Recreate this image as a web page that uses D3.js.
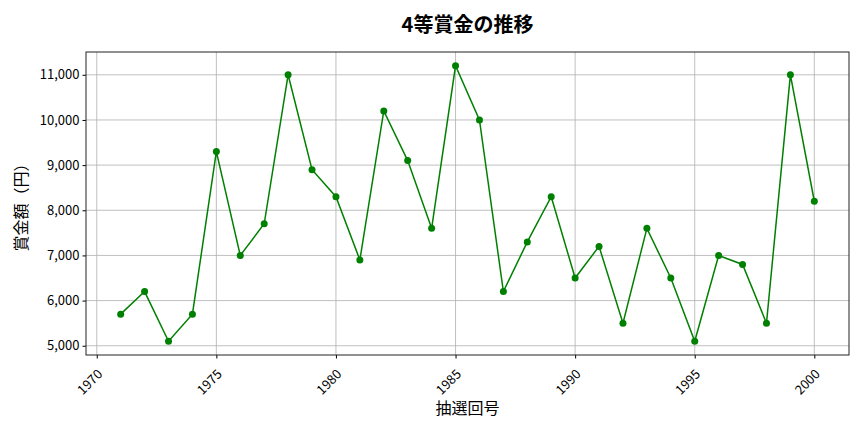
<!DOCTYPE html>
<html>
<head>
<meta charset="utf-8">
<script src="https://cdn.jsdelivr.net/npm/d3@7"></script>
<style>
  body { margin: 0; background: #fff; }
  text { font-family: "Noto Sans CJK JP", "Noto Sans", sans-serif; }
</style>
</head>
<body>
<svg id="chart" width="864" height="432"></svg>
<script>
  var years = [1971, 1972, 1973, 1974, 1975, 1976, 1977, 1978, 1979, 1980,
    1981, 1982, 1983, 1984, 1985, 1986, 1987, 1988, 1989, 1990,
    1991, 1992, 1993, 1994, 1995, 1996, 1997, 1998, 1999, 2000];
  var prizes = [5700, 6200, 5100, 5700, 9300, 7000, 7700, 11000, 8900, 8300,
    6900, 10200, 9100, 7600, 11200, 10000, 6200, 7300, 8300, 6500,
    7200, 5500, 7600, 6500, 5100, 7000, 6800, 5500, 11000, 8200];
  var xTicks = [1970, 1975, 1980, 1985, 1990, 1995, 2000];
  var yTicks = [5000, 6000, 7000, 8000, 9000, 10000, 11000];
  var titleText = '4等賞金の推移';
  var xLabel = '抽選回号';
  var yLabel = '賞金額（円）';

  (function () {
    var svg = d3.select('#chart'),
      plotLeft = 86,
      plotRight = 849,
      plotTop = 52,
      plotBottom = 355;

    var xMin = d3.min(years), xMax = d3.max(years),
      xPad = (xMax - xMin) * 0.05,
      yMin = d3.min(prizes), yMax = d3.max(prizes),
      yPad = (yMax - yMin) * 0.05;

    var x = d3.scaleLinear().domain([xMin - xPad, xMax + xPad]).range([plotLeft, plotRight]);
    var y = d3.scaleLinear().domain([yMin - yPad, yMax + yPad]).range([plotBottom, plotTop]);

    // grid
    svg.append('g').selectAll('line').data(xTicks).enter().append('line')
      .attr('x1', function (d) { return x(d); })
      .attr('x2', function (d) { return x(d); })
      .attr('y1', plotTop).attr('y2', plotBottom)
      .attr('stroke', '#b0b0b0').attr('stroke-width', 0.8);
    svg.append('g').selectAll('line').data(yTicks).enter().append('line')
      .attr('y1', function (d) { return y(d); })
      .attr('y2', function (d) { return y(d); })
      .attr('x1', plotLeft).attr('x2', plotRight)
      .attr('stroke', '#b0b0b0').attr('stroke-width', 0.8);

    // axes
    var xAxis = svg.append('g')
      .attr('transform', 'translate(0,' + plotBottom + ')')
      .call(d3.axisBottom(x).tickValues(xTicks).tickFormat(d3.format('d')).tickSize(3.5).tickSizeOuter(0));
    xAxis.select('.domain').remove();
    xAxis.selectAll('text')
      .attr('font-size', 13)
      .attr('fill', '#000')
      .attr('dy', null)
      .attr('y', 0)
      .attr('text-anchor', 'end')
      .attr('transform', 'translate(6,20) rotate(-45)');

    var yAxis = svg.append('g')
      .attr('transform', 'translate(' + plotLeft + ',0)')
      .call(d3.axisLeft(y).tickValues(yTicks).tickFormat(d3.format(',')).tickSize(3.5).tickSizeOuter(0));
    yAxis.select('.domain').remove();
    yAxis.selectAll('text').attr('font-size', 13).attr('fill', '#000');

    svg.append('rect')
      .attr('x', plotLeft).attr('y', plotTop)
      .attr('width', plotRight - plotLeft).attr('height', plotBottom - plotTop)
      .attr('fill', 'none').attr('stroke', '#222').attr('stroke-width', 1);

    // line + markers
    var line = d3.line()
      .x(function (d, i) { return x(years[i]); })
      .y(function (d) { return y(d); });

    svg.append('path')
      .datum(prizes)
      .attr('d', line)
      .attr('fill', 'none')
      .attr('stroke', '#008000')
      .attr('stroke-width', 1.5);

    svg.append('g').selectAll('circle').data(prizes).enter().append('circle')
      .attr('cx', function (d, i) { return x(years[i]); })
      .attr('cy', function (d) { return y(d); })
      .attr('r', 3.5)
      .attr('fill', '#008000');

    // labels
    svg.append('text')
      .attr('x', (plotLeft + plotRight) / 2).attr('y', 32)
      .attr('text-anchor', 'middle')
      .attr('font-size', 20).attr('font-weight', 'bold')
      .text(titleText);

    svg.append('text')
      .attr('x', (plotLeft + plotRight) / 2).attr('y', 414)
      .attr('text-anchor', 'middle')
      .attr('font-size', 16)
      .text(xLabel);

    svg.append('text')
      .attr('transform', 'translate(27,' + ((plotTop + plotBottom) / 2) + ') rotate(-90)')
      .attr('text-anchor', 'middle')
      .attr('font-size', 16)
      .text(yLabel);
  })();
</script>
</body>
</html>
